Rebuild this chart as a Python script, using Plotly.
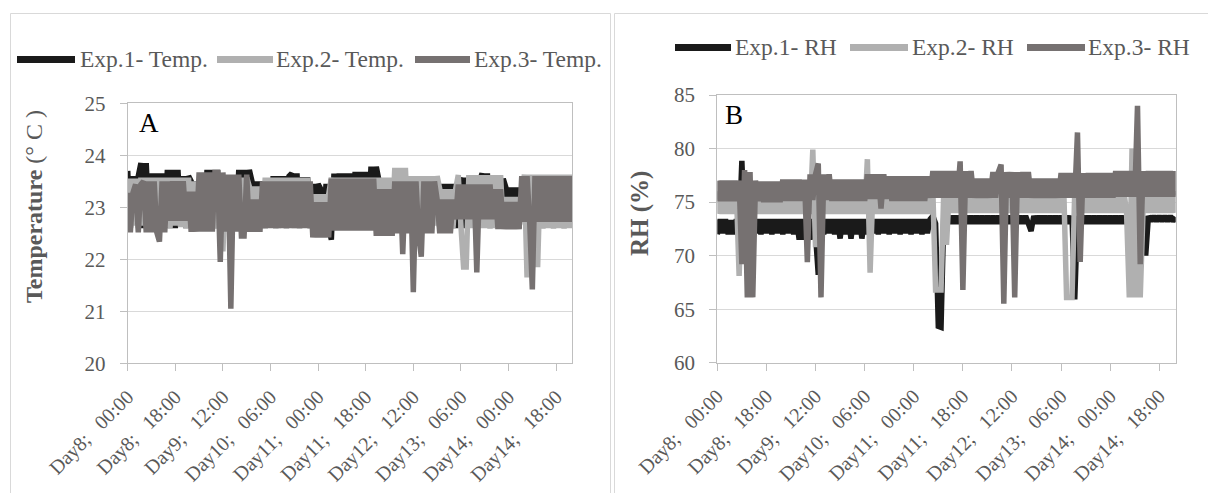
import plotly.graph_objects as go

# ---------------- data ----------------
# hours since Day8 00:00 (hourly readings)
hours = list(range(169))

tick_hours = [0, 18, 36, 54, 72, 90, 108, 126, 144, 162]
tick_labels = ["Day8;", "Day8;", "Day9;", "Day10;", "Day11;", "Day11;", "Day12;", "Day13;", "Day14;", "Day14;"]
tick_times = ["00:00", "18:00", "12:00", "06:00", "00:00", "18:00", "12:00", "06:00", "00:00", "18:00"]

temp_exp1 = [
    23.7, 22.6, 23.6, 22.7, 23.6, 23.85, 22.6, 23.85, 22.7, 23.65, 22.6, 23.65,
    22.6, 23.65, 22.7, 23.72, 22.6, 23.72, 22.6, 23.72, 22.7, 23.6, 22.6, 23.6,
    23.5, 22.6, 23.5, 22.7, 23.5, 22.6, 23.72, 22.7, 23.72, 22.6, 23.72, 22.6,
    23.62, 22.7, 23.62, 22.6, 23.62, 22.6, 23.72, 22.7, 23.72, 22.6, 23.72, 23.5,
    22.6, 23.5, 22.7, 23.5, 22.6, 23.55, 22.7, 23.6, 22.6, 23.6, 22.7, 23.6,
    22.6, 23.6, 23.65, 22.7, 23.65, 22.6, 23.58, 22.7, 23.58, 22.6, 23.45, 22.6,
    23.45, 23.35, 22.6, 23.45, 22.6, 22.38, 23.65, 22.7, 23.65, 22.6, 23.65, 22.7,
    23.65, 22.6, 23.68, 22.7, 23.68, 22.6, 23.68, 22.7, 23.78, 22.6, 23.78, 23.52,
    22.6, 23.52, 22.7, 23.52, 22.6, 23.45, 22.6, 23.5, 22.7, 23.5, 22.6, 23.5,
    22.7, 23.5, 22.6, 23.5, 22.7, 23.5, 22.6, 23.5, 22.7, 23.5, 22.6, 23.45,
    22.6, 23.45, 22.7, 23.45, 22.6, 23.45, 23.57, 22.6, 23.57, 22.7, 23.57, 23.5,
    22.6, 23.5, 23.65, 22.7, 23.65, 22.6, 23.55, 22.7, 23.55, 22.6, 23.55, 23.38,
    22.6, 23.38, 22.7, 23.38, 22.6, 23.38, 23.5, 22.7, 23.5, 22.6, 23.5, 22.7,
    23.5, 22.6, 23.5, 22.7, 23.5, 22.6, 23.5, 22.7, 23.5, 22.6, 23.5, 22.7,
    23.5,
]

temp_exp2 = [
    22.62, 23.55, 22.65, 23.55, 22.6, 23.57, 22.65, 23.57, 22.62, 23.57, 22.6, 23.57,
    22.65, 23.57, 22.62, 23.57, 22.6, 23.57, 22.65, 23.57, 22.62, 23.57, 22.6, 23.57,
    22.62, 23.5, 22.65, 23.5, 22.6, 23.57, 22.62, 23.57, 22.65, 23.57, 22.6, 23.57,
    22.15, 23.57, 22.62, 23.57, 22.65, 23.57, 22.6, 23.57, 22.62, 23.57, 23.4, 22.62,
    23.4, 22.65, 23.4, 22.6, 23.57, 22.62, 23.57, 22.65, 23.57, 22.6, 23.57, 22.62,
    23.57, 22.65, 23.57, 22.6, 23.57, 22.62, 23.57, 22.65, 23.57, 22.6, 23.25, 22.62,
    23.25, 22.6, 23.25, 22.65, 23.25, 23.57, 22.62, 23.57, 22.65, 23.57, 22.6, 23.57,
    22.62, 23.57, 22.65, 23.57, 22.6, 23.57, 22.62, 23.57, 22.65, 23.57, 22.6, 23.57,
    22.62, 23.57, 22.65, 23.57, 22.6, 23.76, 22.62, 23.76, 22.65, 23.76, 22.6, 23.6,
    22.62, 23.6, 22.65, 23.6, 22.6, 23.6, 22.62, 23.6, 22.65, 23.6, 23.35, 22.62,
    23.35, 22.65, 23.35, 22.6, 23.35, 23.62, 22.65, 21.85, 21.85, 23.62, 22.6, 23.62,
    22.6, 23.62, 22.6, 23.62, 22.6, 23.62, 22.6, 23.62, 22.65, 23.62, 22.62, 23.2,
    22.62, 23.2, 22.6, 23.2, 22.62, 23.2, 23.63, 21.65, 23.63, 22.6, 23.63, 21.85,
    23.63, 22.6, 23.63, 22.6, 23.63, 22.6, 23.63, 22.6, 23.63, 22.6, 23.63, 22.6,
    23.63,
]

temp_exp3 = [
    23.28, 22.52, 23.28, 23.44, 22.52, 23.44, 23.5, 22.52, 23.5, 22.52, 23.5, 22.52,
    22.34, 23.5, 22.52, 23.5, 22.74, 23.5, 22.74, 23.5, 22.74, 23.5, 22.74, 23.3,
    22.53, 23.3, 22.53, 23.67, 22.53, 23.67, 22.53, 23.67, 22.53, 23.67, 23.67, 21.95,
    23.67, 22.53, 23.63, 21.05, 23.63, 22.53, 23.63, 22.45, 22.45, 23.63, 22.53, 23.15,
    22.53, 23.15, 22.53, 23.5, 22.6, 23.5, 22.6, 23.5, 22.6, 23.5, 22.6, 23.5,
    22.6, 23.5, 22.6, 23.5, 22.6, 23.5, 22.6, 23.5, 22.6, 23.5, 22.42, 23.1,
    22.42, 23.1, 22.42, 23.1, 22.42, 23.55, 22.55, 23.55, 22.55, 23.55, 22.55, 23.55,
    22.55, 23.55, 22.55, 23.55, 22.55, 23.55, 22.55, 23.55, 22.55, 23.55, 22.45, 23.35,
    22.45, 23.35, 22.45, 23.35, 22.45, 23.5, 22.5, 23.5, 22.1, 23.5, 22.5, 23.5,
    21.37, 23.5, 22.5, 22.05, 23.5, 22.5, 23.5, 22.5, 23.5, 23.15, 22.5, 23.15,
    22.5, 23.15, 22.5, 23.15, 22.77, 23.44, 22.77, 23.44, 22.77, 23.44, 22.77, 23.44,
    21.75, 23.44, 22.77, 23.44, 22.77, 23.44, 22.77, 23.35, 22.58, 23.35, 22.58, 23.1,
    22.58, 23.1, 22.58, 23.1, 22.58, 23.6, 22.72, 23.6, 22.72, 21.42, 23.6, 22.72,
    23.6, 22.72, 23.6, 22.72, 23.6, 22.72, 23.6, 22.72, 23.6, 22.72, 23.6, 22.72,
    23.6,
]

rh_exp1 = [
    72.0, 73.4, 72.1, 73.4, 72.0, 73.3, 72.0, 73.4, 72.1, 78.85, 72.0, 73.4,
    72.0, 73.4, 72.1, 73.4, 72.0, 73.4, 72.1, 73.4, 72.0, 73.4, 72.1, 73.4,
    72.0, 73.4, 72.1, 73.4, 72.0, 73.4, 71.5, 73.4, 71.5, 73.4, 71.5, 73.4,
    72.0, 68.2, 73.4, 72.0, 73.4, 72.1, 73.4, 72.0, 73.4, 71.6, 73.4, 72.0,
    73.4, 71.6, 73.4, 72.0, 73.4, 71.6, 73.4, 72.0, 73.4, 72.1, 73.4, 72.0,
    73.4, 72.1, 73.4, 72.0, 73.4, 72.1, 73.4, 72.0, 73.4, 72.1, 73.4, 72.0,
    73.4, 72.1, 73.4, 72.0, 73.4, 72.1, 73.4, 73.7, 73.0, 63.4, 63.3, 73.7,
    73.0, 73.7, 73.0, 73.7, 73.0, 73.7, 73.0, 73.7, 73.0, 73.7, 73.0, 73.7,
    73.0, 73.7, 73.0, 73.7, 73.0, 73.7, 73.0, 73.7, 73.0, 73.7, 73.0, 73.7,
    73.0, 73.7, 73.0, 73.7, 73.0, 73.7, 73.0, 72.3, 73.7, 73.0, 73.7, 73.0,
    73.7, 73.0, 73.7, 73.0, 73.7, 73.0, 73.7, 73.0, 73.7, 73.0, 73.7, 65.9,
    73.7, 73.0, 73.7, 73.0, 73.7, 73.0, 73.7, 73.0, 73.7, 73.0, 73.7, 73.0,
    73.7, 73.0, 73.7, 73.0, 73.7, 73.0, 73.7, 73.0, 73.7, 73.0, 73.7, 73.0,
    73.7, 70.0, 73.7, 73.2, 73.7, 73.2, 73.7, 73.2, 73.7, 73.2, 73.7, 73.2,
    73.6,
]

rh_exp2 = [
    73.9, 76.0, 73.9, 76.0, 73.9, 76.0, 73.9, 76.0, 68.1, 76.0, 73.9, 76.0,
    73.9, 76.0, 73.9, 76.0, 73.9, 76.0, 73.9, 76.0, 73.9, 76.0, 73.9, 76.0,
    73.9, 76.0, 73.9, 76.0, 73.9, 76.0, 73.9, 76.0, 73.9, 76.0, 73.9, 79.9,
    70.8, 76.0, 73.9, 76.0, 73.9, 76.0, 73.9, 76.0, 73.9, 76.0, 73.9, 76.0,
    73.9, 76.0, 73.9, 76.0, 73.9, 76.0, 73.9, 79.0, 68.4, 76.0, 73.9, 76.0,
    73.9, 76.0, 73.9, 76.0, 73.9, 76.0, 73.9, 76.0, 73.9, 76.0, 73.9, 76.0,
    73.9, 76.0, 73.9, 76.0, 73.9, 76.0, 73.9, 76.0, 66.8, 66.8, 66.8, 76.0,
    71.0, 76.0, 74.0, 76.0, 74.0, 76.0, 74.0, 76.0, 74.0, 76.0, 74.0, 76.0,
    74.0, 76.0, 74.0, 76.0, 74.0, 76.0, 74.0, 76.0, 74.0, 76.0, 74.0, 76.0,
    74.0, 76.0, 74.0, 76.0, 74.0, 76.0, 74.0, 76.0, 74.0, 76.0, 74.0, 76.0,
    74.0, 76.0, 74.0, 76.0, 74.0, 76.0, 74.0, 76.0, 66.1, 66.1, 66.1, 76.0,
    74.0, 76.0, 74.0, 76.0, 74.0, 76.0, 74.0, 76.0, 74.0, 76.0, 74.0, 76.0,
    74.0, 76.0, 74.0, 76.0, 74.0, 76.0, 74.0, 66.1, 80.0, 66.1, 76.0, 66.1,
    74.0, 76.0, 74.0, 76.0, 74.0, 76.0, 74.0, 76.0, 74.0, 76.0, 74.0, 76.0,
    74.0,
]

rh_exp3 = [
    77.0, 75.1, 77.0, 75.1, 77.0, 75.1, 77.0, 75.1, 77.0, 69.2, 78.0, 66.1,
    77.8, 66.1, 77.0, 75.1, 76.9, 75.0, 76.9, 75.0, 76.9, 75.0, 76.9, 75.0,
    77.1, 75.1, 77.1, 75.1, 77.1, 75.1, 77.1, 75.1, 77.1, 69.4, 77.6, 75.2,
    77.6, 78.6, 66.1, 77.6, 75.2, 77.6, 75.1, 77.1, 75.1, 77.1, 75.1, 77.1,
    75.1, 77.1, 75.1, 77.1, 75.1, 77.1, 75.1, 77.6, 75.3, 77.6, 75.3, 77.6,
    74.4, 77.6, 75.3, 77.4, 75.1, 77.4, 75.1, 77.4, 75.1, 77.4, 75.1, 77.4,
    75.1, 77.4, 75.1, 77.4, 75.1, 77.4, 75.4, 77.9, 75.4, 77.9, 75.4, 77.9,
    75.4, 77.9, 75.4, 77.9, 75.4, 78.8, 66.8, 77.9, 75.4, 77.9, 75.4, 77.2,
    75.4, 77.2, 75.4, 77.2, 75.4, 77.8, 75.4, 77.8, 78.5, 65.5, 77.8, 75.4,
    77.8, 66.1, 77.8, 75.4, 77.8, 75.4, 77.8, 75.4, 77.2, 75.4, 77.2, 75.4,
    77.2, 75.4, 77.2, 75.4, 77.2, 75.4, 77.7, 75.4, 77.7, 75.4, 77.7, 75.4,
    81.5, 69.4, 77.7, 75.4, 77.7, 75.4, 77.7, 75.4, 77.7, 75.4, 77.7, 75.4,
    77.7, 75.4, 77.9, 75.5, 77.9, 75.5, 77.9, 75.5, 77.9, 75.5, 84.0, 69.2,
    77.9, 75.5, 77.9, 75.5, 77.9, 75.5, 77.9, 75.5, 77.9, 75.5, 77.9, 75.5,
    77.9,
]

temp_names = ["Exp.1- Temp.", "Exp.2- Temp.", "Exp.3- Temp."]
rh_names = ["Exp.1- RH", "Exp.2- RH", "Exp.3- RH"]
colors = ["#1a1a1a", "#b0b0b0", "#767171"]

# ---------------- layout helpers ----------------
W, H = 1208, 493
FONT = "Liberation Serif, Times New Roman, serif"
GREY = "#595959"


def px(x):
    return x / W


def py(y):
    return 1 - y / H


tick_text = [a + "\u00a0\u00a0\u00a0" + b for a, b in zip(tick_labels, tick_times)]

fig = go.Figure()
for vals, name, col in zip([temp_exp1, temp_exp2, temp_exp3], temp_names, colors):
    fig.add_trace(go.Scatter(x=hours, y=vals, mode="lines", name=name,
                             line=dict(color=col, width=5.5), xaxis="x", yaxis="y",
                             showlegend=False))
for vals, name, col in zip([rh_exp1, rh_exp2, rh_exp3], rh_names, colors):
    fig.add_trace(go.Scatter(x=hours, y=vals, mode="lines", name=name,
                             line=dict(color=col, width=5.5), xaxis="x2", yaxis="y2",
                             showlegend=False))

xcommon = dict(range=[0, 168], tickvals=tick_hours, ticktext=tick_text, tickangle=-45,
               ticks="outside", ticklen=7, tickcolor="#bfbfbf", showgrid=False,
               showline=True, linecolor="#bfbfbf", linewidth=1, mirror=True,
               zeroline=False, automargin=False, ticklabelstandoff=6,
               tickfont=dict(family=FONT, size=20, color=GREY))
ycommon = dict(ticks="outside", ticklen=7, tickcolor="#bfbfbf", showgrid=True,
               gridcolor="#d9d9d9", gridwidth=1, showline=True, linecolor="#bfbfbf",
               linewidth=1, mirror=True, zeroline=False, ticklabelstandoff=10,
               automargin=False, tickfont=dict(family=FONT, size=21, color=GREY))

fig.update_layout(
    width=W, height=H, margin=dict(l=0, r=0, t=0, b=0, autoexpand=False),
    paper_bgcolor="white", plot_bgcolor="white", showlegend=False,
    xaxis=dict(domain=[px(127.7), px(572)], anchor="y", **xcommon),
    yaxis=dict(domain=[py(363.3), py(103.3)], anchor="x", range=[20, 25], dtick=1, **ycommon),
    xaxis2=dict(domain=[px(717.3), px(1175.7)], anchor="y2", **xcommon),
    yaxis2=dict(domain=[py(362.7), py(95)], anchor="x2", range=[60, 85], dtick=5, **ycommon),
)

shapes = []
# panel frames
shapes.append(dict(type="rect", xref="paper", yref="paper", x0=px(10.5), x1=px(610.5),
                   y0=-0.05, y1=py(13.5), line=dict(color="#d9d9d9", width=1)))
shapes.append(dict(type="rect", xref="paper", yref="paper", x0=px(614.5), x1=1.02,
                   y0=-0.05, y1=py(13.5), line=dict(color="#d9d9d9", width=1)))

annotations = []
# custom legends
leg_left = [(17, 75, 78), (217, 273, 274), (415, 470, 472)]
leg_right = [(675, 731, 733), (850, 908, 910), (1027, 1085, 1086)]
for (x0, x1, xt), name, col in zip(leg_left, temp_names, colors):
    shapes.append(dict(type="line", xref="paper", yref="paper", x0=px(x0), x1=px(x1),
                       y0=py(59.5), y1=py(59.5), line=dict(color=col, width=7)))
    annotations.append(dict(text=name, x=px(xt), y=py(58.5), xref="paper", yref="paper",
                            xanchor="left", yanchor="middle", showarrow=False,
                            font=dict(family=FONT, size=23.5, color=GREY)))
for (x0, x1, xt), name, col in zip(leg_right, rh_names, colors):
    shapes.append(dict(type="line", xref="paper", yref="paper", x0=px(x0), x1=px(x1),
                       y0=py(47.5), y1=py(47.5), line=dict(color=col, width=7)))
    annotations.append(dict(text=name, x=px(xt), y=py(47.5), xref="paper", yref="paper",
                            xanchor="left", yanchor="middle", showarrow=False,
                            font=dict(family=FONT, size=23.5, color=GREY)))

# axis titles
annotations.append(dict(text="<b>Temperature</b> (° C )", x=px(34), y=py(207), xref="paper",
                        yref="paper", textangle=-90, showarrow=False, xanchor="center",
                        yanchor="middle", font=dict(family=FONT, size=24, color=GREY)))
annotations.append(dict(text="<b>RH (%)</b>", x=px(640), y=py(214), xref="paper",
                        yref="paper", textangle=-90, showarrow=False, xanchor="center",
                        yanchor="middle", font=dict(family=FONT, size=25, color=GREY)))
# panel letters
annotations.append(dict(text="A", x=px(137), y=py(123), xref="paper", yref="paper",
                        xanchor="left", yanchor="middle", showarrow=False,
                        font=dict(family=FONT, size=27, color="black")))
annotations.append(dict(text="B", x=px(723), y=py(115), xref="paper", yref="paper",
                        xanchor="left", yanchor="middle", showarrow=False,
                        font=dict(family=FONT, size=27, color="black")))

fig.update_layout(shapes=shapes, annotations=annotations)
fig.write_html("out.html")
